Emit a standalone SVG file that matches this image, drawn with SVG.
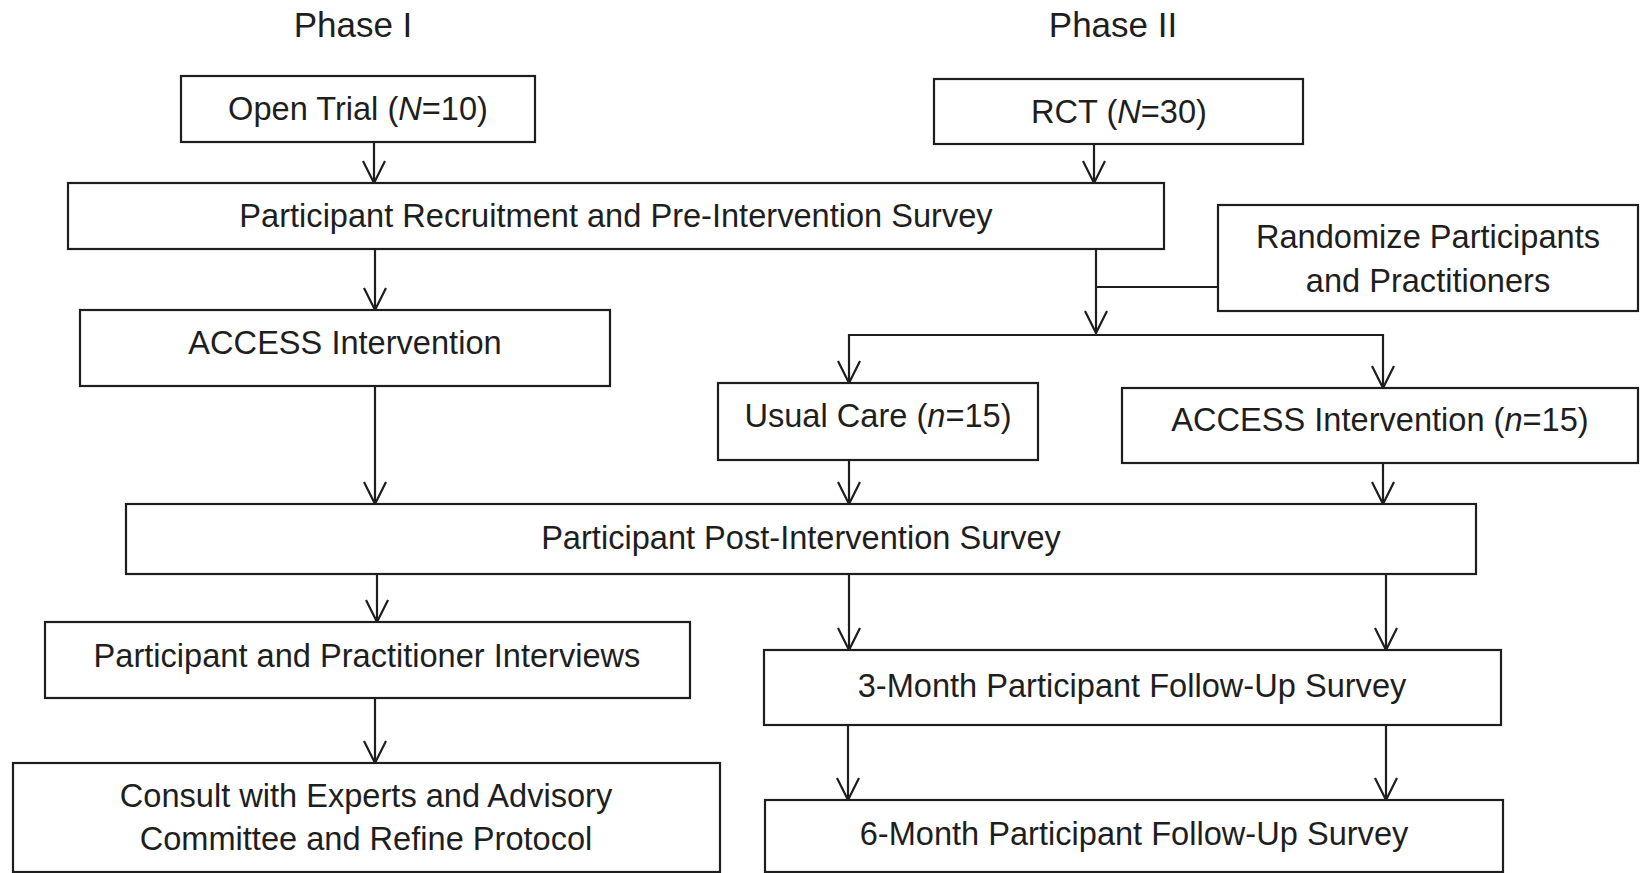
<svg xmlns="http://www.w3.org/2000/svg" width="1646" height="873" viewBox="0 0 1646 873">
<style>
.box{fill:#fff;stroke:#1e1e1e;stroke-width:2.2}
.t{font-family:"Liberation Sans",Arial,sans-serif;font-size:32.6px;fill:#1e1e1e;text-anchor:middle}
.ph{font-size:35px}
.c{fill:none;stroke:#1e1e1e;stroke-width:2.2}
</style>
<defs>
<marker id="arr" markerUnits="userSpaceOnUse" orient="auto" refX="0" refY="0" markerWidth="40" markerHeight="40" viewBox="-30 -20 40 40" overflow="visible">
<path d="M-22,-11 L0,0 L-22,11" fill="none" stroke="#1e1e1e" stroke-width="2.2"/>
</marker>
</defs>
<rect width="1646" height="873" fill="#fff"/>
<g id="labels">
<text class="t ph" x="353" y="37">Phase I</text>
<text class="t ph" x="1113" y="37">Phase II</text>
</g>
<g id="connectors">
<line class="c" x1="374" y1="142" x2="374" y2="183" marker-end="url(#arr)"/>
<line class="c" x1="1094" y1="144" x2="1094" y2="183" marker-end="url(#arr)"/>
<line class="c" x1="375" y1="249" x2="375" y2="310" marker-end="url(#arr)"/>
<line class="c" x1="1096" y1="249" x2="1096" y2="333" marker-end="url(#arr)"/>
<line class="c" x1="1218" y1="287" x2="1096" y2="287"/>
<line class="c" x1="849" y1="335" x2="1383" y2="335"/>
<line class="c" x1="849" y1="334" x2="849" y2="383" marker-end="url(#arr)"/>
<line class="c" x1="1383" y1="334" x2="1383" y2="388" marker-end="url(#arr)"/>
<line class="c" x1="375" y1="386" x2="375" y2="504" marker-end="url(#arr)"/>
<line class="c" x1="849" y1="460" x2="849" y2="504" marker-end="url(#arr)"/>
<line class="c" x1="1383" y1="463" x2="1383" y2="504" marker-end="url(#arr)"/>
<line class="c" x1="377" y1="574" x2="377" y2="622" marker-end="url(#arr)"/>
<line class="c" x1="849" y1="574" x2="849" y2="650" marker-end="url(#arr)"/>
<line class="c" x1="1386" y1="574" x2="1386" y2="650" marker-end="url(#arr)"/>
<line class="c" x1="375" y1="698" x2="375" y2="763" marker-end="url(#arr)"/>
<line class="c" x1="848" y1="725" x2="848" y2="800" marker-end="url(#arr)"/>
<line class="c" x1="1386" y1="725" x2="1386" y2="800" marker-end="url(#arr)"/>
</g>
<g id="open-trial">
<rect class="box" x="181" y="76" width="354" height="66"/>
<text class="t" x="358" y="120">Open Trial (<tspan font-style="italic">N</tspan>=10)</text>
</g>
<g id="rct">
<rect class="box" x="934" y="79" width="369" height="65"/>
<text class="t" x="1119" y="123">RCT (<tspan font-style="italic">N</tspan>=30)</text>
</g>
<g id="recruitment">
<rect class="box" x="68" y="183" width="1096" height="66"/>
<text class="t" x="616" y="227">Participant Recruitment and Pre-Intervention Survey</text>
</g>
<g id="randomize">
<rect class="box" x="1218" y="205" width="420" height="106"/>
<text class="t" x="1428" y="248">Randomize Participants</text>
<text class="t" x="1428" y="292">and Practitioners</text>
</g>
<g id="access-1">
<rect class="box" x="80" y="310" width="530" height="76"/>
<text class="t" x="345" y="354">ACCESS Intervention</text>
</g>
<g id="usual-care">
<rect class="box" x="718" y="383" width="320" height="77"/>
<text class="t" x="878" y="427">Usual Care (<tspan font-style="italic">n</tspan>=15)</text>
</g>
<g id="access-2">
<rect class="box" x="1122" y="388" width="516" height="75"/>
<text class="t" x="1380" y="431">ACCESS Intervention (<tspan font-style="italic">n</tspan>=15)</text>
</g>
<g id="post-survey">
<rect class="box" x="126" y="504" width="1350" height="70"/>
<text class="t" x="801" y="549">Participant Post-Intervention Survey</text>
</g>
<g id="interviews">
<rect class="box" x="45" y="622" width="645" height="76"/>
<text class="t" x="367" y="667">Participant and Practitioner Interviews</text>
</g>
<g id="consult">
<rect class="box" x="13" y="763" width="707" height="109"/>
<text class="t" x="366" y="807">Consult with Experts and Advisory</text>
<text class="t" x="366" y="850">Committee and Refine Protocol</text>
</g>
<g id="followup-3">
<rect class="box" x="764" y="650" width="737" height="75"/>
<text class="t" x="1132" y="697">3-Month Participant Follow-Up Survey</text>
</g>
<g id="followup-6">
<rect class="box" x="765" y="800" width="738" height="72"/>
<text class="t" x="1134" y="845">6-Month Participant Follow-Up Survey</text>
</g>
</svg>
